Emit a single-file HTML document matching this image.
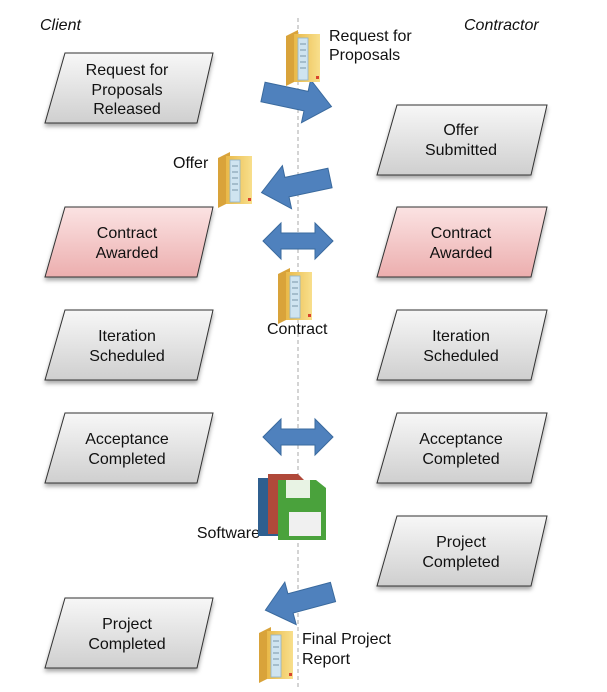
<!DOCTYPE html>
<html><head><meta charset="utf-8"><style>
body{margin:0;background:#fff}
svg text{font-family:"Liberation Sans",sans-serif;font-size:16px;fill:#111}
</style></head><body>
<svg width="607" height="687" viewBox="0 0 607 687" xmlns="http://www.w3.org/2000/svg">
<defs>
<linearGradient id="g" x1="0" y1="0" x2="0" y2="1"><stop offset="0" stop-color="#f7f7f7"/><stop offset="1" stop-color="#cfcfcf"/></linearGradient>
<linearGradient id="r" x1="0" y1="0" x2="0" y2="1"><stop offset="0" stop-color="#fbe3e3"/><stop offset="1" stop-color="#ecaeae"/></linearGradient>
<linearGradient id="f" x1="0" y1="0" x2="1" y2="0"><stop offset="0" stop-color="#e9b949"/><stop offset="1" stop-color="#f8df8c"/></linearGradient>
<filter id="s" x="-10%" y="-10%" width="120%" height="130%"><feDropShadow dx="0" dy="3" stdDeviation="2" flood-color="#000" flood-opacity="0.35"/></filter>
<polygon id="ar" points="0,-10 44,-10 44,-22 70,0 44,22 44,10 0,10" fill="#4f81bd" stroke="#3a6a9e" stroke-width="1"/>
<polygon id="da" points="0,0 18,-18 18,-8 52,-8 52,-18 70,0 52,18 52,8 18,8 18,18" fill="#4f81bd" stroke="#3a6a9e" stroke-width="1"/>
<g id="fo"><path d="M0,6 L12,0 L12,50 L0,56 Z" fill="#d9a33a"/><rect x="8" y="4" width="26" height="48" fill="url(#f)"/><rect x="12" y="8" width="10" height="42" fill="#cfe4f0" stroke="#8fb3c9" stroke-width="0.8"/><path d="M14,14h6M14,20h6M14,26h6M14,32h6M14,38h6" stroke="#7896a8" stroke-width="1"/><rect x="30" y="46" width="3" height="3" fill="#d9432c"/></g>
</defs>
<line x1="298" y1="18" x2="298" y2="687" stroke="#aaa" stroke-dasharray="4,3" stroke-width="1"/>
<text x="40" y="30" font-style="italic">Client</text>
<text x="464" y="30" font-style="italic">Contractor</text>

<g filter="url(#s)" stroke="#333" stroke-width="1">
<polygon points="65,53 213,53 197,123 45,123" fill="url(#g)"/>
<polygon points="397,105 547,105 531,175 377,175" fill="url(#g)"/>
<polygon points="65,207 213,207 197,277 45,277" fill="url(#r)"/>
<polygon points="397,207 547,207 531,277 377,277" fill="url(#r)"/>
<polygon points="65,310 213,310 197,380 45,380" fill="url(#g)"/>
<polygon points="397,310 547,310 531,380 377,380" fill="url(#g)"/>
<polygon points="65,413 213,413 197,483 45,483" fill="url(#g)"/>
<polygon points="397,413 547,413 531,483 377,483" fill="url(#g)"/>
<polygon points="397,516 547,516 531,586 377,586" fill="url(#g)"/>
<polygon points="65,598 213,598 197,668 45,668" fill="url(#g)"/>
</g>
<g text-anchor="middle">
<text x="127" y="75">Request for</text><text x="127" y="95">Proposals</text><text x="127" y="114">Released</text>
<text x="461" y="135">Offer</text><text x="461" y="155">Submitted</text>
<text x="127" y="238">Contract</text><text x="127" y="258">Awarded</text>
<text x="461" y="238">Contract</text><text x="461" y="258">Awarded</text>
<text x="127" y="341">Iteration</text><text x="127" y="361">Scheduled</text>
<text x="461" y="341">Iteration</text><text x="461" y="361">Scheduled</text>
<text x="127" y="444">Acceptance</text><text x="127" y="464">Completed</text>
<text x="461" y="444">Acceptance</text><text x="461" y="464">Completed</text>
<text x="461" y="547">Project</text><text x="461" y="567">Completed</text>
<text x="127" y="629">Project</text><text x="127" y="649">Completed</text>
</g>

<use href="#ar" transform="translate(263,92) rotate(12)"/>
<use href="#ar" transform="translate(330,178) rotate(168)"/>
<use href="#da" transform="translate(263,241)"/>
<use href="#da" transform="translate(263,437)"/>
<use href="#ar" transform="translate(333,592) rotate(165)"/>

<use href="#fo" transform="translate(286,30)"/>
<use href="#fo" transform="translate(218,152)"/>
<use href="#fo" transform="translate(278,268)"/>
<use href="#fo" transform="translate(259,627)"/>
<text x="329" y="41">Request for</text><text x="329" y="60">Proposals</text>
<text x="173" y="168">Offer</text>
<text x="267" y="334">Contract</text>
<text x="260" y="538" text-anchor="end">Software</text>
<text x="302" y="644">Final Project</text><text x="302" y="664">Report</text>

<g>
<path d="M258,478 h30 l8,8 v50 h-38 z" fill="#2f5f8f"/>
<path d="M268,474 h30 l8,8 v52 h-38 z" fill="#b0493a"/>
<path d="M278,480 h38 l10,8 v52 h-48 z" fill="#4aa23c"/>
<rect x="286" y="480" width="24" height="18" fill="#e8f3e4"/>
<rect x="289" y="512" width="32" height="24" fill="#f0f0f0"/>
</g>
</svg>
</body></html>
